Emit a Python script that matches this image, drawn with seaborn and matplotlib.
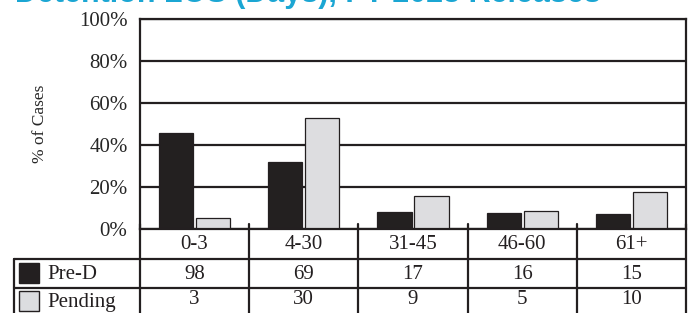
import matplotlib
matplotlib.use("Agg")
import matplotlib.pyplot as plt
import pandas as pd
import numpy as np
import seaborn as sns
from matplotlib.patches import Rectangle

# data
categorias = ["0-3", "4-30", "31-45", "46-60", "61+"]
series = ["Pre-D", "Pending"]
pre_d = [98, 69, 17, 16, 15]
pending = [3, 30, 9, 5, 10]

colores = {"Pre-D": "#231f20", "Pending": "#dcdde0"}
titulo = "Detention LOS (Days), FY 2023 Releases"

conteos = {"Pre-D": pre_d, "Pending": pending}
filas = []
for s in series:
    total = sum(conteos[s])
    for c, v in zip(categorias, conteos[s]):
        filas.append({"cat": c, "serie": s, "pct": 100 * v / total})
df = pd.DataFrame(filas)

sns.set_style("white")
plt.rcParams["font.family"] = ["Liberation Serif", "DejaVu Serif"]

W, H = 694, 313
fig = plt.figure(figsize=(W / 100, H / 100), dpi=100)

# plot area in pixels
x0, x1, ytop, ybot = 140, 686, 19, 229
ax = fig.add_axes([x0 / W, 1 - ybot / H, (x1 - x0) / W, (ybot - ytop) / H])

sns.barplot(data=df, x="cat", y="pct", hue="serie", order=categorias,
            hue_order=series, palette=colores, width=0.68, gap=0.08,
            edgecolor="#231f20", linewidth=0.9, legend=False, ax=ax)

ax.set_ylim(0, 100)
ax.set_xlim(-0.5, len(categorias) - 0.5)
ax.set_yticks(np.arange(0, 101, 20))
ax.set_yticklabels([f"{t}%" for t in range(0, 101, 20)], fontsize=15)
ax.tick_params(axis="y", direction="out", length=6, width=1.5, color="#231f20", pad=3)
ax.set_xticks([])
ax.set_xlabel("")
ax.set_ylabel("% of Cases", fontsize=12.5, labelpad=22)
ax.yaxis.grid(True, color="#231f20", linewidth=1.6)
ax.set_axisbelow(True)
for sp in ax.spines.values():
    sp.set_visible(True)
    sp.set_color("#231f20")
    sp.set_linewidth(1.6)

# table under the plot, drawn in pixel space
tab = fig.add_axes([0, 0, 1, 1])
tab.set_xlim(0, W)
tab.set_ylim(H, 0)
tab.axis("off")
tab.patch.set_alpha(0)

lw = 1.6
k = "#231f20"
ancho = (x1 - x0) / len(categorias)
r0, r1, r2, r3 = ybot, 258.5, 288, 318
xl = 14

tab.plot([xl, x1], [r1, r1], color=k, lw=lw)
tab.plot([xl, x1], [r2, r2], color=k, lw=lw)
tab.plot([xl, xl], [r1, r3], color=k, lw=lw)
for i in range(len(categorias) + 1):
    xb = x0 + i * ancho
    tab.plot([xb, xb], [r0 - 5, r3], color=k, lw=lw)

for i, c in enumerate(categorias):
    xc = x0 + (i + 0.5) * ancho
    tab.text(xc, (r0 + r1) / 2 + 1, c, ha="center", va="center", fontsize=15, color=k)
    tab.text(xc, (r1 + r2) / 2 + 1, str(pre_d[i]), ha="center", va="center", fontsize=15, color=k)
    tab.text(xc, r2 + 12, str(pending[i]), ha="center", va="center", fontsize=15, color=k)

for s, yc in zip(series, [(r1 + r2) / 2, r2 + 13]):
    tab.add_patch(Rectangle((19, yc - 10), 20, 20, facecolor=colores[s],
                            edgecolor=k, linewidth=1))
    tab.text(47, yc + 1, s, ha="left", va="center", fontsize=15, color=k)

# title, cut off at the top like the source
fig.text(15 / W, 1 - 2 / H, titulo, ha="left", va="baseline", fontsize=22,
         fontweight="bold", color="#1ba6d3", family=["Liberation Sans", "DejaVu Sans"])

fig.savefig("out.png", dpi=100)
